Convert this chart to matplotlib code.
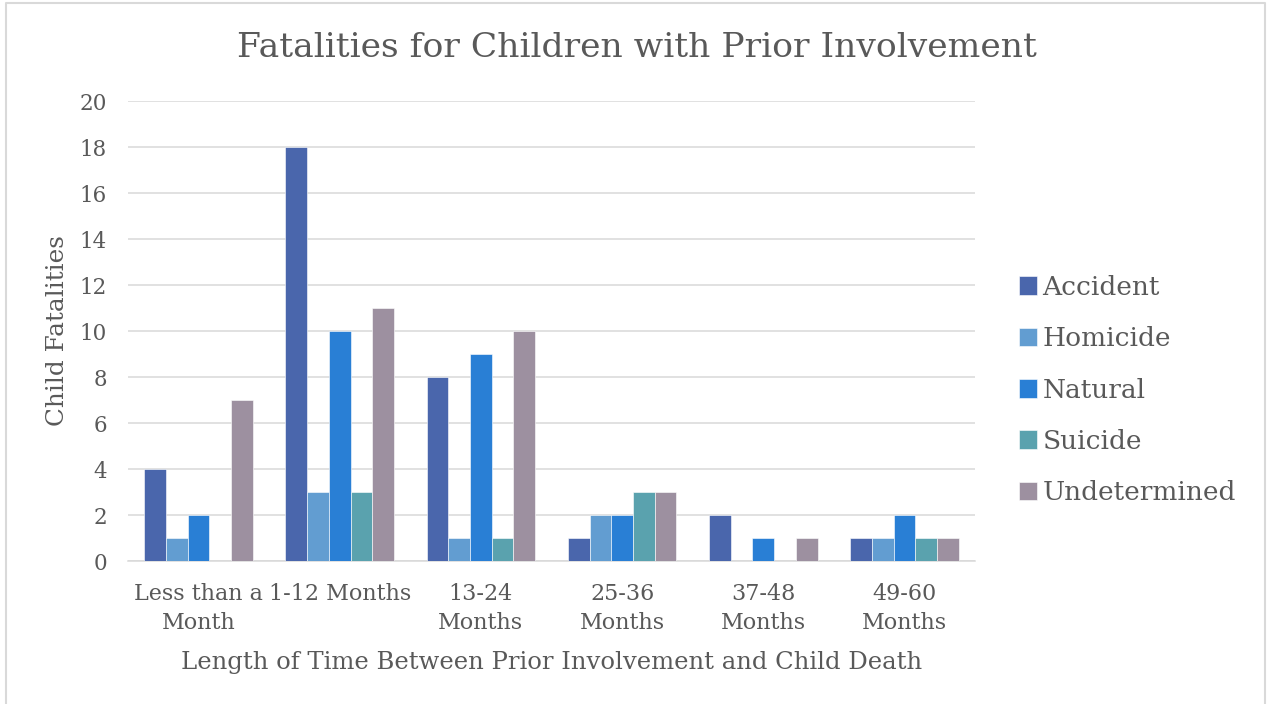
import matplotlib
matplotlib.use("Agg")
import matplotlib.pyplot as plt
import numpy as np
from matplotlib.lines import Line2D

categories = ["Less than a\nMonth", "1-12 Months", "13-24\nMonths", "25-36\nMonths", "37-48\nMonths", "49-60\nMonths"]
series_names = ["Accident", "Homicide", "Natural", "Suicide", "Undetermined"]
accident = [4, 18, 8, 1, 2, 1]
homicide = [1, 3, 1, 2, 0, 1]
natural = [2, 10, 9, 2, 1, 2]
suicide = [0, 3, 1, 3, 0, 1]
undetermined = [7, 11, 10, 3, 1, 1]
colors = ["#4A66AC", "#629DD1", "#297FD5", "#5AA2AE", "#9D90A0"]
yticks = list(range(0, 21, 2))

text_color = "#595959"
grid_color = "#D9D9D9"
plt.rcParams["font.family"] = ["DejaVu Serif"]

W, H = 1269, 704
fig = plt.figure(figsize=(W / 100, H / 100), dpi=100)
ax = fig.add_axes([128 / W, 1 - 561 / H, (975 - 128) / W, (561 - 101) / H])

values = [accident, homicide, natural, suicide, undetermined]
n = len(series_names)
bw = 1 / (n + 1.5)
x = np.arange(len(categories))
for i, (name, vals) in enumerate(zip(series_names, values)):
    ax.bar(x + (i - (n - 1) / 2) * bw, vals, width=bw, color=colors[i], label=name,
           edgecolor="white", linewidth=0.4, zorder=3)

ax.set_xlim(-0.5, len(categories) - 0.5)
ax.set_ylim(0, 20)
ax.set_yticks(yticks)
ax.set_yticklabels([str(t) for t in yticks], fontsize=15.5, color=text_color)
ax.set_xticks(x)
ax.set_xticklabels(categories, fontsize=16, color=text_color, linespacing=1.4)
ax.tick_params(axis="both", length=0)
ax.tick_params(axis="y", pad=15)
ax.tick_params(axis="x", pad=16)
ax.grid(axis="y", color=grid_color, linewidth=1.1, zorder=0)
for s in ["top", "right", "left"]:
    ax.spines[s].set_visible(False)
ax.spines["bottom"].set_color(grid_color)
ax.spines["bottom"].set_linewidth(1.1)

ax.set_ylabel("Child Fatalities", fontsize=17.8, color=text_color, labelpad=8)
ax.set_xlabel("Length of Time Between Prior Involvement and Child Death", fontsize=17.5,
              color=text_color, labelpad=12)
fig.text(637 / W, 1 - 48 / H, "Fatalities for Children with Prior Involvement",
         fontsize=24.8, color=text_color, ha="center", va="center")

handles, labels = ax.get_legend_handles_labels()
leg = fig.legend(handles, labels, loc="center left", bbox_to_anchor=(995 / W, 1 - 390 / H),
                 frameon=False, fontsize=19, handlelength=0.7, handleheight=0.7,
                 handletextpad=0.2, labelspacing=1.0, labelcolor=text_color)

# chart border (bottom edge runs past the canvas)
bx0, bx1, by0 = 6.5 / W, 1264.5 / W, 1 - 3 / H
fig.lines.append(Line2D([bx0, bx0, bx1, bx1], [0, by0, by0, 0], transform=fig.transFigure,
                        color=grid_color, linewidth=1.5))

fig.savefig("out.png", dpi=100, facecolor="white")
